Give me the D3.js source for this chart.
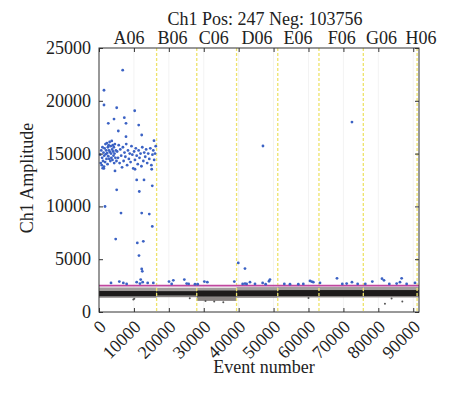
<!DOCTYPE html>
<html><head><meta charset="utf-8">
<script src="https://cdn.jsdelivr.net/npm/d3@7"></script>
<style>
html,body{margin:0;padding:0;background:#fff;}
text{font-family:"Liberation Serif","Times New Roman",serif;fill:#222;}
</style></head>
<body><svg id="c" width="474" height="394"></svg>
<script>
const title = "Ch1 Pos: 247 Neg: 103756";
const xLabel = "Event number";
const yLabel = "Ch1 Amplitude";
const xTicks = [0,10000,20000,30000,40000,50000,60000,70000,80000,90000];
const yTicks = [0,5000,10000,15000,20000,25000];
const xMax = 91650, yMax = 25000;
const wells = ["A06","B06","C06","D06","E06","F06","G06","H06"];
const wellStart = [0,16500,28000,39400,51200,63000,75700,91100];
const wellEnd   = [16500,28000,39400,51200,63000,75700,91100,91650];
const wellLabelAt = [8600,21050,32900,45250,57000,69500,80900,92200];
const threshold = 2500;
// negative droplet band per well (amplitudes)
const negFringeTop    = [2320,2300,2300,2360,2380,2380,2380,2380];
const negCoreTop      = [2000,1980,2050,2060,2080,2080,2080,2080];
const negCoreBottom   = [1480,1550,1450,1500,1500,1500,1500,1500];
const negFringeBottom = [1350,1400,1050,1350,1380,1380,1380,1380];
const strayNeg = [[9830,1180],[10110,1250],[35600,930],[33000,1000],[30500,1050],[81900,770],[83800,1270],[86870,990],[26000,1300],[60000,1320]];
// positive droplets [event, amplitude]
const positives = [
[6790,22900],[1430,21000],[1430,19600],[5070,19340],[10220,19060],[4300,18270],[7250,18400],[2660,17870],[7730,17870],[11370,17700],
[5530,17140],[12230,16760],[7730,16600],[15750,16220],
[350,14900],[500,14100],[650,15300],[800,13900],[900,14600],[1000,15600],[1150,14300],[1300,15100],[1400,13600],[1500,14800],
[1600,15500],[1750,14200],[1850,15900],[1950,14950],[2050,15300],[2150,14500],[2250,16000],[2350,15050],[2450,14000],[2550,15600],
[2650,14750],[2750,15800],[2850,15300],[2950,14500],[3050,16100],[3150,15150],[3250,14300],[3350,15700],[3450,15000],[3550,14600],
[3650,16200],[3750,15400],[3850,14400],[3950,15800],[4050,15200],[4150,14800],[4250,15600],[4350,14100],[4450,15000],[4550,15900],
[4700,14600],[4850,15300],[5000,14300],
[5200,15200],[5450,14600],[5650,15800],[5900,14100],[6100,15400],[6350,14800],[6600,13700],[6850,15600],[7050,14300],[7300,15100],
[7550,14700],[7800,15900],[8050,13900],[8300,15300],[8550,14500],[8800,15000],[9050,14200],[9300,15700],[9550,14900],[9800,13600],
[10050,15200],[10300,14400],[10550,15500],[10800,14800],[11100,14000],[11350,15300],[11600,14600],[11900,15000],[12150,13800],[12400,15600],
[12700,14300],[12950,15100],[13250,14700],[13500,15400],[13800,14100],[14100,15000],[14400,14500],[14700,15500],[15000,13900],[15300,14900],
[15550,15300],[15800,14400],[16050,15000],[16250,15700],
[1430,13770],[1060,13620],[4580,13360],[10310,13520],[15090,13520],[10800,12510],[12890,12510],[5070,11570],[11540,11410],[15260,11950],
[1720,9990],[6300,9370],[12230,9370],[14400,9270],[15260,8100],[4780,6910],[10970,6540],[12690,6690],[11450,5340],[12230,4080],
[12400,3850],[11940,3070],
[3440,2750],[5820,2880],[6970,2750],[7920,2660],[10790,2820],[11740,2690],[12510,2820],[13940,2750],[15560,2750],
[20050,2880],[21290,3000],[20810,2660],[24440,3070],[25110,2690],[25680,2660],[27490,2630],
[30170,2880],[31030,2820],[28260,2630],
[39890,4650],[41810,4110],[46960,15720],
[38760,2880],[41140,2660],[41810,2690],[42290,2660],[43240,2820],[44680,2660],[46870,2750],[47730,2630],[48690,2910],[48970,3070],
[53080,2660],[54700,2630],[57090,2630],[58520,2660],[60430,2940],[60900,2880],[61380,2820],
[63290,2750],[68160,3190],[69690,2660],[70930,2690],[72450,2820],[74080,2660],[72450,17990],
[76270,2660],[78280,2880],[81050,3160],[81620,3000],[83150,2660],[85250,2690],[86680,3190],[86200,2820],[88110,2660],[90500,2750]
];

const svg = d3.select("#c");
const L=99, R=419, T=48, B=312;
const x = d3.scaleLinear().domain([0,xMax]).range([L,R]);
const y = d3.scaleLinear().domain([0,yMax]).range([B,T]);

// vertical grid
svg.append("g").selectAll("line").data(xTicks.slice(1)).join("line")
  .attr("x1",d=>x(d)).attr("x2",d=>x(d)).attr("y1",T).attr("y2",B)
  .attr("stroke","#f3f3f3").attr("stroke-width",1);

// negative band
const idx = d3.range(wells.length);
const band = svg.append("g");
band.selectAll("rect.lf").data(idx).join("rect").attr("class","lf")
  .attr("x",i=>x(wellStart[i])).attr("width",i=>x(wellEnd[i])-x(wellStart[i]))
  .attr("y",i=>y(negCoreBottom[i])).attr("height",i=>y(negFringeBottom[i])-y(negCoreBottom[i]))
  .attr("fill","#8a8584");
band.selectAll("rect.uf").data(idx).join("rect").attr("class","uf")
  .attr("x",i=>x(wellStart[i])).attr("width",i=>x(wellEnd[i])-x(wellStart[i]))
  .attr("y",i=>y(negFringeTop[i])).attr("height",i=>y(negCoreTop[i])-y(negFringeTop[i]))
  .attr("fill","#a19d9c");
band.selectAll("rect.core").data(idx).join("rect").attr("class","core")
  .attr("x",i=>x(wellStart[i])).attr("width",i=>x(wellEnd[i])-x(wellStart[i]))
  .attr("y",i=>y(negCoreTop[i])).attr("height",i=>y(negCoreBottom[i])-y(negCoreTop[i]))
  .attr("fill","#1d1b1b");
svg.append("g").selectAll("circle").data(strayNeg).join("circle")
  .attr("cx",d=>x(d[0])).attr("cy",d=>y(d[1])).attr("r",1).attr("fill","#555");

// well boundaries
svg.append("g").selectAll("line").data(wellStart.slice(1)).join("line")
  .attr("x1",d=>x(d)).attr("x2",d=>x(d)).attr("y1",T).attr("y2",B)
  .attr("stroke","#eee36a").attr("stroke-width",1.3).attr("stroke-dasharray","3,2");

// threshold
svg.append("line").attr("x1",x(0)).attr("x2",x(xMax)).attr("y1",y(threshold)).attr("y2",y(threshold))
  .attr("stroke","#c0479f").attr("stroke-width",1.8);

// positives
svg.append("g").selectAll("circle").data(positives).join("circle")
  .attr("cx",d=>x(d[0])).attr("cy",d=>y(d[1])).attr("r",1.4).attr("fill","#3b62c4");

// axes (ticks inward, box)
const tl = 4;
svg.append("g").attr("transform",`translate(0,${B})`)
  .call(d3.axisBottom(x).tickValues(xTicks).tickSize(-tl).tickFormat(""))
  .call(g=>g.select(".domain").remove());
svg.append("g").attr("transform",`translate(0,${T})`)
  .call(d3.axisTop(x).tickValues(xTicks).tickSize(-tl).tickFormat(""))
  .call(g=>g.select(".domain").remove());
svg.append("g").attr("transform",`translate(${L},0)`)
  .call(d3.axisLeft(y).tickValues(yTicks).tickSize(-tl).tickFormat(""))
  .call(g=>g.select(".domain").remove());
svg.append("g").attr("transform",`translate(${R},0)`)
  .call(d3.axisRight(y).tickValues(yTicks).tickSize(-tl).tickFormat(""))
  .call(g=>g.select(".domain").remove());
svg.selectAll(".tick line").attr("stroke","#333");
svg.append("rect").attr("x",L).attr("y",T).attr("width",R-L).attr("height",B-T)
  .attr("fill","none").attr("stroke","#333").attr("stroke-width",1);

// tick labels
svg.append("g").selectAll("text").data(yTicks).join("text")
  .attr("x",L-8).attr("y",d=>y(d)+6).attr("text-anchor","end").attr("font-size",18).text(d=>d);
svg.append("g").selectAll("text").data(xTicks).join("text")
  .attr("text-anchor","end").attr("font-size",18)
  .attr("transform",d=>`translate(${x(d)+8},${B+16}) rotate(-45)`).text(d=>d);

// well labels
svg.append("g").selectAll("text").data(wells).join("text")
  .attr("x",(d,i)=>x(wellLabelAt[i])).attr("y",44).attr("text-anchor","middle").attr("font-size",18).text(d=>d);

svg.append("text").attr("x",265).attr("y",25).attr("text-anchor","middle").attr("font-size",18).text(title);
svg.append("text").attr("x",264).attr("y",373).attr("text-anchor","middle").attr("font-size",18).text(xLabel);
svg.append("text").attr("transform","translate(33,178) rotate(-90)").attr("text-anchor","middle").attr("font-size",18).text(yLabel);
</script></body></html>
